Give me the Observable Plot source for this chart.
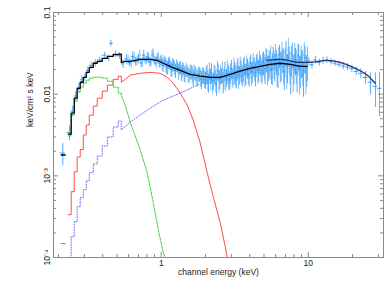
<!DOCTYPE html>
<html><head><meta charset="utf-8">
<script src="https://cdn.jsdelivr.net/npm/d3@7"></script>
<script src="https://cdn.jsdelivr.net/npm/@observablehq/plot@0.6"></script>
<style>body{margin:0;background:#fff} svg{display:block}</style>
</head><body><div id="chart"></div>
<script>
// ---- model components (keV, keV^2 ph/cm^2/s/keV) ----
const stepEdges = [0.209,0.222,0.233,0.244,0.256,0.268,0.281,0.295,0.309,0.324,0.345,0.367,0.397,0.430,0.471,0.510,0.535];
const totalStep = [0.0018,null,0.00325,0.00586,0.00893,0.0118,0.0140,0.0161,0.0185,0.0213,0.0239,0.0252,0.0275,0.0290,0.0305,0.0310];
const totalE = [0.535,0.569,0.615,0.720,0.841,0.939,1.032,1.188,1.347,1.575,1.842,2.153,2.519,2.946,3.446,4.03,4.71,5.51,6.45,7.55,8.83,9.84];
const totalF = [0.0245,0.0252,0.0252,0.0267,0.0267,0.0260,0.0239,0.0213,0.0196,0.0175,0.0166,0.0161,0.0161,0.0175,0.0191,0.0207,0.0219,0.0232,0.0239,0.0232,0.0219,0.0219];
const hardE = [5.26,6.45,8.83,10.3,13.5,16.5,20.2,25.2,28.6];
const hardF = [0.0260,0.0267,0.0245,0.0245,0.0260,0.0245,0.0213,0.0171,0.0136];
const greenStep = [0.0018,null,0.00308,0.00554,0.00822,0.01057,0.01216,0.0136,0.0148,0.0157,0.0161,0.0161,0.0157,0.0144,0.0122,0.0103];
const greenE = [0.535,0.569,0.615,0.665,0.720,0.803,0.883,0.954,1.032,1.065];
const greenF = [0.00973,0.00734,0.00456,0.00308,0.00208,0.00109,0.000469,0.000219,0.000115,0.0001];
const redStep = [0.000148,null,0.000334,0.00064,0.00112,0.0017,0.0021,0.00316,0.00419,0.00554,0.00714,0.00893,0.0109,0.0129,0.0152,0.0166];
const redE = [0.535,0.569,0.615,0.720,0.841,0.984,1.099,1.207,1.347,1.502,1.651,1.842,2.055,2.258,2.519,2.725,2.81];
const redF = [0.0140,0.0152,0.0171,0.0180,0.0185,0.0180,0.0161,0.0136,0.0103,0.00734,0.00482,0.00252,0.00109,0.000555,0.000267,0.000136,0.0001];
const blueEdges = [0.240,0.244,0.256,0.268,0.281,0.295,0.309,0.324,0.345,0.367,0.397,0.430,0.471,0.510,0.535];
const blueStep = [0.0001,0.00018,0.000275,0.000419,0.00054,0.000675,0.000869,0.00109,0.0014,0.00175,0.00232,0.00299,0.00396,0.00469];
const blueE = [0.535,0.615,0.803,1.032,1.347,1.757,2.153,2.40];
const blueF = [0.00364,0.00456,0.00638,0.00846,0.0103,0.0129,0.0152,0.0156];

// ---- data points, set 1 ----
const dataE = [0.214,0.238,0.250,0.262,0.275,0.288,0.302,0.316,0.334,0.356,0.382,0.413,0.440,0.455,0.490,0.520,
 0.55,0.58,0.61,0.64,0.67,0.70,0.73,0.76,0.79,0.82,0.85,0.88,0.91,0.94,0.97,
 1.00,1.03,1.06,1.09,1.12,1.15,1.18,1.21,1.25,1.29,1.33,1.37,1.41,1.45,1.50,1.55,1.60,1.65,1.70,1.76,1.82,1.88,1.94,
 2.00,2.05,2.10,2.15,2.20,2.26,2.32,2.38,2.44,2.50,2.57,2.64,2.71,2.78,2.85,2.92,3.00,3.08,3.16,3.24,3.32,3.40,3.49,3.58,3.67,3.76,3.86,3.96,4.06,4.16,4.27,4.38,4.49,4.60,4.72,4.84,
 4.96,5.09,5.22,5.35,5.49,5.63,5.77,5.92,6.07,6.22,6.38,6.54,6.71,6.88,7.05,7.23,7.41,7.60,7.79,7.99,8.19,8.40,8.61,8.83,9.05,9.28,9.52,9.76,
 10.1,10.6,11.2,11.9,12.6,13.4,14.3,15.2,16.2,17.3,18.5,19.8,21.2,22.8,24.5,26.5,28.7,30.5];
const dataF = [0.0019,0.0034,0.0062,0.0095,0.0120,0.0150,0.0160,0.0195,0.0225,0.0240,0.0262,0.0300,0.0275,0.0420,0.0310,0.0295,
 0.0235,0.0270,0.0245,0.0290,0.0250,0.0275,0.0240,0.0300,0.0260,0.0280,0.0245,0.0310,0.0255,0.0275,0.0240,
 0.0262,0.0225,0.0250,0.0215,0.0238,0.0228,0.0200,0.0226,0.0195,0.0215,0.0208,0.0182,0.0205,0.0176,0.0192,0.0170,0.0186,0.0162,0.0180,0.0158,0.0175,0.0152,0.0168,
 0.0150,0.0178,0.0140,0.0168,0.0185,0.0146,0.0172,0.0135,0.0190,0.0155,0.0168,0.0142,0.0195,0.0160,0.0178,0.0150,0.0205,0.0165,0.0188,0.0158,0.0212,0.0172,0.0198,0.0168,0.0225,0.0180,0.0210,0.0175,0.0238,0.0190,0.0220,0.0182,0.0245,0.0200,0.0232,0.0195,
 0.0250,0.0205,0.0265,0.0215,0.0240,0.0200,0.0285,0.0225,0.0255,0.0195,0.0300,0.0230,0.0270,0.0190,0.0330,0.0220,0.0280,0.0175,0.0310,0.0215,0.0265,0.0185,0.0300,0.0205,0.0250,0.0170,0.0280,0.0210,
 0.0250,0.0230,0.0262,0.0245,0.0258,0.0262,0.0250,0.0240,0.0232,0.0222,0.0215,0.0205,0.0190,0.0180,0.0160,0.0140,0.0125,0.0118];
const dataErr = [0.30,0.20,0.15,0.13,0.12,0.12,0.10,0.10,0.10,0.10,0.09,0.09,0.09,0.09,0.09,0.09,
 0.12,0.13,0.11,0.14,0.12,0.13,0.12,0.15,0.12,0.14,0.12,0.15,0.13,0.14,0.13,
 0.15,0.18,0.14,0.20,0.16,0.15,0.20,0.17,0.20,0.16,0.18,0.22,0.17,0.22,0.18,0.20,0.20,0.24,0.20,0.22,0.20,0.25,0.22,
 0.24,0.27,0.26,0.22,0.28,0.24,0.27,0.30,0.24,0.27,0.22,0.29,0.26,0.24,0.28,0.26,0.27,0.24,0.30,0.26,0.28,0.25,0.30,0.27,0.26,0.29,0.27,0.30,0.26,0.29,0.28,0.32,0.27,0.30,0.28,0.32,
 0.32,0.36,0.31,0.34,0.38,0.34,0.32,0.37,0.34,0.40,0.32,0.38,0.34,0.42,0.34,0.39,0.36,0.44,0.34,0.40,0.37,0.44,0.36,0.42,0.38,0.46,0.37,0.42,
 0.12,0.12,0.10,0.10,0.10,0.09,0.09,0.09,0.09,0.10,0.10,0.10,0.12,0.14,0.18,0.30,0.45,0.55];

// ---- data points, set 2 ----
const data2E = [0.595,0.625,0.655,0.685,0.715,0.745,0.775,0.805,0.835,0.865,0.895,0.925,0.955,0.985,
 1.015,1.045,1.075,1.105,1.135,1.165,1.195,1.23,1.27,1.31,1.35,1.39,1.43,1.475,1.525,1.575,1.625,1.675,1.73,1.79,1.85,1.91,1.97,
 2.025,2.075,2.125,2.175,2.23,2.29,2.35,2.41,2.47,2.535,2.605,2.675,2.745,2.815,2.885,2.96,3.04,3.12,3.20,3.28,3.36,3.445,3.535,3.625,3.715,3.81,3.91,4.01,4.11,4.215,4.325,4.435,4.545,4.66,4.78,4.90,
 5.025,5.155,5.285,5.42,5.56,5.70,5.845,5.995,6.145,6.30,6.46,6.625,6.795,6.965,7.14,7.32,7.505,7.695,7.89,8.09,8.295,8.505,8.72,8.94,9.165,9.40,9.64,9.88];
const data2F = [0.0262,0.0238,0.0280,0.0255,0.0300,0.0248,0.0270,0.0285,0.0250,0.0295,0.0262,0.0240,0.0285,0.0250,
 0.0235,0.0255,0.0228,0.0210,0.0245,0.0205,0.0230,0.0212,0.0225,0.0190,0.0212,0.0198,0.0180,0.0200,0.0175,0.0190,0.0176,0.0185,0.0170,0.0178,0.0162,0.0172,0.0155,
 0.0172,0.0150,0.0195,0.0155,0.0138,0.0180,0.0150,0.0200,0.0145,0.0178,0.0195,0.0160,0.0148,0.0200,0.0165,0.0185,0.0160,0.0215,0.0175,0.0195,0.0165,0.0220,0.0182,0.0205,0.0172,0.0230,0.0190,0.0215,0.0185,0.0245,0.0205,0.0230,0.0198,0.0255,0.0210,0.0240,
 0.0225,0.0270,0.0210,0.0255,0.0290,0.0220,0.0245,0.0300,0.0215,0.0270,0.0235,0.0320,0.0240,0.0265,0.0210,0.0350,0.0230,0.0270,0.0200,0.0300,0.0240,0.0285,0.0195,0.0270,0.0230,0.0300,0.0195,0.0260];
const data2Err = [0.14,0.13,0.15,0.13,0.16,0.14,0.13,0.15,0.14,0.16,0.13,0.15,0.14,0.16,
 0.18,0.16,0.20,0.18,0.17,0.21,0.19,0.20,0.18,0.22,0.19,0.21,0.23,0.20,0.22,0.21,0.24,0.22,0.23,0.21,0.25,0.23,0.24,
 0.26,0.28,0.25,0.29,0.27,0.26,0.30,0.27,0.29,0.26,0.28,0.30,0.27,0.29,0.31,0.28,0.27,0.30,0.29,0.27,0.31,0.29,0.28,0.32,0.30,0.28,0.31,0.30,0.33,0.29,0.31,0.30,0.33,0.31,0.34,0.32,
 0.36,0.34,0.40,0.36,0.35,0.42,0.38,0.36,0.44,0.38,0.42,0.36,0.45,0.40,0.46,0.38,0.44,0.42,0.48,0.40,0.45,0.42,0.50,0.43,0.46,0.42,0.50,0.45];

// ---- axis ticks ----
const xMajor = [1, 10];
const xMinor = [0.2,0.3,0.4,0.5,0.6,0.7,0.8,0.9,2,3,4,5,6,7,8,9,20,30];
const yMajor = [1e-4, 1e-3, 1e-2, 0.1];
const yMinor = [2e-4,3e-4,4e-4,5e-4,6e-4,7e-4,8e-4,9e-4,2e-3,3e-3,4e-3,5e-3,6e-3,7e-3,8e-3,9e-3,0.02,0.03,0.04,0.05,0.06,0.07,0.08,0.09];
const xTickLabels = ["1", "10"];
const yTickLabels = ["10\u207B\u2074", "10\u207B\u00B3", "0.01", "0.1"];
const xTitle = "channel energy (keV)";
const yTitle = "keV/cm\u00B2 s keV";

function stepLine(edges, vals, sE, sF) {
  const pts = [];
  vals.forEach((v, i) => {
    if (v == null) { pts.push({E: edges[i], F: NaN}); return; }
    pts.push({E: edges[i], F: v}, {E: edges[i + 1], F: v});
  });
  sE.forEach((e, i) => pts.push({E: e, F: sF[i]}));
  return pts;
}
const total = stepLine(stepEdges, totalStep, totalE, totalF);
const green = stepLine(stepEdges, greenStep, greenE, greenF);
const red = stepLine(stepEdges, redStep, redE, redF);
const blue = stepLine(blueEdges, blueStep, blueE, blueF);
const hard = hardE.map((E, i) => ({E, F: hardF[i]}));

const cap = 1.04;
function points(Es, Fs, Errs) {
  return Es.map((E, i) => {
    const prev = i > 0 ? Math.sqrt(Es[i - 1] * E) : E / cap;
    const next = i < Es.length - 1 ? Math.sqrt(Es[i + 1] * E) : E * cap;
    return {E, F: Fs[i], lo: Math.max(prev, E / cap), hi: Math.min(next, E * cap),
      y1: Fs[i] * (1 - Errs[i]), y2: Fs[i] * (1 + Errs[i])};
  });
}
const data1 = points(dataE, dataF, dataErr);
const data2 = points(data2E, data2F, data2Err);

const W = 391, H = 291, mL = 53, mR = 8, mT = 12, mB = 34;
const pw = W - mL - mR, ph = H - mT - mB;
const axisColor = "#8a8a8a";
const majorLen = 5, minorLen = 3;
const c1 = "#1e90ff", c2 = "#7cc2f6";

const chart = Plot.plot({
  width: W, height: H, marginLeft: mL, marginRight: mR, marginTop: mT, marginBottom: mB,
  x: {type: "log", domain: [0.185, 32.5], axis: null},
  y: {type: "log", domain: [1e-4, 0.1], axis: null},
  style: {fontFamily: "'Liberation Sans', Arial, sans-serif", fontSize: "8.5px", background: "#fff", color: "#333"},
  marks: [
    Plot.line(red, {x: "E", y: "F", stroke: "#ff4a4a", strokeWidth: 1, clip: true}),
    Plot.line(green, {x: "E", y: "F", stroke: "#3fd43f", strokeWidth: 1, strokeDasharray: "3,1.2", clip: true}),
    Plot.line(blue, {x: "E", y: "F", stroke: "#6b6bff", strokeWidth: 1, strokeDasharray: "1,1.6", clip: true}),
    Plot.ruleX(data2, {x: "E", y1: "y1", y2: "y2", stroke: c2, strokeWidth: 1, clip: true}),
    Plot.ruleY(data2, {y: "F", x1: "lo", x2: "hi", stroke: c2, strokeWidth: 1, clip: true}),
    Plot.ruleX(data1, {x: "E", y1: "y1", y2: "y2", stroke: c1, strokeWidth: 1, strokeOpacity: 0.75, clip: true}),
    Plot.ruleY(data1, {y: "F", x1: "lo", x2: "hi", stroke: c1, strokeWidth: 1, strokeOpacity: 0.85, clip: true}),
    Plot.line(total, {x: "E", y: "F", stroke: "#000", strokeWidth: 1.3}),
    Plot.line(hard, {x: "E", y: "F", stroke: "#27336b", strokeWidth: 1.3, curve: "monotone-x"}),
    Plot.frame({stroke: axisColor}),
    Plot.ruleX(xMajor, {x: d => d, insetTop: ph - majorLen, stroke: axisColor}),
    Plot.ruleX(xMinor, {x: d => d, insetTop: ph - minorLen, stroke: axisColor}),
    Plot.ruleX(xMajor, {x: d => d, insetBottom: ph - majorLen, stroke: axisColor}),
    Plot.ruleX(xMinor, {x: d => d, insetBottom: ph - minorLen, stroke: axisColor}),
    Plot.ruleY(yMajor, {y: d => d, insetRight: pw - majorLen, stroke: axisColor}),
    Plot.ruleY(yMinor, {y: d => d, insetRight: pw - minorLen, stroke: axisColor}),
    Plot.ruleY(yMajor, {y: d => d, insetLeft: pw - majorLen, stroke: axisColor}),
    Plot.ruleY(yMinor, {y: d => d, insetLeft: pw - minorLen, stroke: axisColor}),
    Plot.text(xMajor, {x: d => d, text: (d, i) => xTickLabels[i], frameAnchor: "bottom", lineAnchor: "top", dy: 2, fill: "#222"}),
    Plot.text(yMajor, {y: d => d, text: (d, i) => yTickLabels[i], frameAnchor: "left", rotate: -90, dx: -6, textAnchor: "middle", fill: "#222"}),
    Plot.text([xTitle], {frameAnchor: "bottom", dy: 17, fill: "#222"}),
    Plot.text([yTitle], {frameAnchor: "left", rotate: -90, dx: -23, dy: -8, fill: "#222"})
  ]
});
document.getElementById("chart").appendChild(chart);
</script>
</body></html>
